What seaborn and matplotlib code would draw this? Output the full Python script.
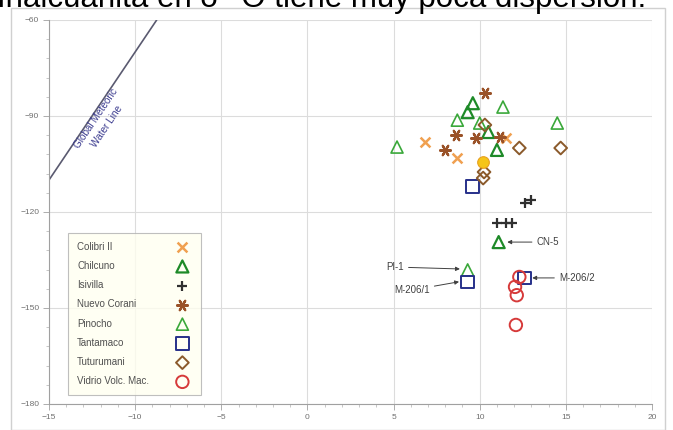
import matplotlib
matplotlib.use("Agg")
import matplotlib.pyplot as plt
from matplotlib.patches import Rectangle
from matplotlib.ticker import MultipleLocator
import seaborn as sns
import numpy as np

# valores (d18O, dD)
colibri_x = [6.8, 8.7, 11.5]
colibri_y = [-98.1, -103.1, -96.9]

chilcuno_x = [9.3, 9.6, 11.0, 10.5, 11.1]
chilcuno_y = [-88.8, -86.0, -100.6, -95.0, -129.4]

isivilla_x = [12.6, 13.0, 11.0, 11.5, 11.9]
isivilla_y = [-117.2, -116.3, -123.4, -123.4, -123.4]

corani_x = [8.0, 8.6, 10.3, 9.8, 11.2]
corani_y = [-100.6, -96.0, -82.8, -96.9, -96.5]

pinocho_x = [5.2, 8.7, 11.35, 14.5, 10.0, 9.3]
pinocho_y = [-99.7, -91.3, -87.2, -92.2, -92.2, -138.1]

tantamaco_x = [9.6, 9.3, 12.6]
tantamaco_y = [-112.0, -141.9, -140.6]

tuturumani_x = [12.3, 14.7, 10.3, 10.2, 10.25]
tuturumani_y = [-100.0, -100.0, -92.8, -109.4, -107.5]

vidrio_x = [12.3, 12.05, 12.15, 12.1]
vidrio_y = [-140.3, -143.4, -146.0, -155.3]

resaltado_x = [10.2]
resaltado_y = [-104.4]

# GMWL: dD = 8*d18O + 10
gmwl_x = [-15.0, -8.75]

sns.set_theme(style="white")
plt.rcParams["font.family"] = ["Liberation Sans", "DejaVu Sans"]

fig = plt.figure(figsize=(6.73, 4.30), dpi=100)
fig.patches.append(Rectangle((11 / 673, 0), 654 / 673, 422 / 430, transform=fig.transFigure,
                             fill=False, edgecolor="#d0d0d0", lw=1.0))
fig.text(-0.005, 1 - 7 / 430, "Inalcuanita en δ¹⁸O tiene muy poca dispersión.",
         fontsize=22.5, va="baseline", ha="left", color="#000000",
         family=["Liberation Sans", "DejaVu Sans"])

ax = fig.add_axes([49 / 673, 1 - 404 / 430, 603 / 673, 384 / 430])

ax.plot(gmwl_x, [8 * v + 10 for v in gmwl_x], color="#5a5a70", lw=1.2, zorder=2)
ax.text(-11.95, -92.0, "Global Meteoric\nWater Line", rotation=56, rotation_mode="anchor",
        ha="center", va="center", fontsize=7.2, color="#3b3b8f", linespacing=1.45)

sns.scatterplot(x=colibri_x, y=colibri_y, marker="x", s=50, color="#f0a050",
                linewidth=1.8, label="Colibri II", ax=ax, zorder=4)
sns.scatterplot(x=chilcuno_x, y=chilcuno_y, marker="^", s=75, facecolors="none",
                edgecolors="#1e8a28", linewidth=1.6, label="Chilcuno", ax=ax, zorder=4)
sns.scatterplot(x=isivilla_x, y=isivilla_y, marker="+", s=50, color="#303030",
                linewidth=1.6, label="Isivilla", ax=ax, zorder=4)
sns.scatterplot(x=corani_x, y=corani_y, marker=(6, 2, 90), s=60, color="#9a5228",
                linewidth=1.6, label="Nuevo Corani", ax=ax, zorder=4)
sns.scatterplot(x=pinocho_x, y=pinocho_y, marker="^", s=75, facecolors="none",
                edgecolors="#3aa83a", linewidth=1.2, label="Pinocho", ax=ax, zorder=4)
sns.scatterplot(x=tantamaco_x, y=tantamaco_y, marker="s", s=85, facecolors="none",
                edgecolors="#27308a", linewidth=1.4, label="Tantamaco", ax=ax, zorder=4)
sns.scatterplot(x=tuturumani_x, y=tuturumani_y, marker="D", s=42, facecolors="none",
                edgecolors="#8b5a2b", linewidth=1.4, label="Tuturumani", ax=ax, zorder=4)
sns.scatterplot(x=vidrio_x, y=vidrio_y, marker="o", s=80, facecolors="none",
                edgecolors="#d63a3a", linewidth=1.4, label="Vidrio Volc. Mac.", ax=ax, zorder=4)
sns.scatterplot(x=resaltado_x, y=resaltado_y, marker="o", s=70, color="#f5c518",
                edgecolor="#e8a020", linewidth=0.8, ax=ax, zorder=5)

arrow = dict(arrowstyle="-|>", color="#404040", lw=0.7, mutation_scale=6,
             shrinkA=1, shrinkB=0)
ax.annotate("CN-5", xy=(11.6, -129.4), xytext=(13.3, -129.4), fontsize=7,
            color="#404040", ha="left", va="center", arrowprops=arrow)
ax.annotate("PI-1", xy=(8.85, -137.8), xytext=(5.6, -137.2), fontsize=7,
            color="#404040", ha="right", va="center", arrowprops=arrow)
ax.annotate("M-206/1", xy=(8.8, -141.8), xytext=(7.1, -144.4), fontsize=7,
            color="#404040", ha="right", va="center", arrowprops=arrow)
ax.annotate("M-206/2", xy=(13.05, -140.6), xytext=(14.6, -140.6), fontsize=7,
            color="#404040", ha="left", va="center", arrowprops=arrow)

ax.set_xlim(-15, 20)
ax.set_ylim(-180, -60)
ax.xaxis.set_major_locator(MultipleLocator(5))
ax.xaxis.set_minor_locator(MultipleLocator(1))
ax.yaxis.set_major_locator(MultipleLocator(30))
ax.yaxis.set_minor_locator(MultipleLocator(6))
ax.grid(True, which="major", color="#dcdcdc", lw=0.8)
ax.set_axisbelow(True)
for side in ["top", "right"]:
    ax.spines[side].set_visible(False)
for side in ["left", "bottom"]:
    ax.spines[side].set_color("#a0a0a0")
    ax.spines[side].set_linewidth(0.8)
ax.tick_params(which="major", direction="out", length=4, width=0.6, color="#a0a0a0",
               labelsize=6, labelcolor="#707070", pad=3, bottom=True, left=True)
ax.tick_params(which="minor", direction="out", length=2, width=0.5, color="#b0b0b0",
               bottom=True, left=True)

leg = ax.legend(loc="lower left", bbox_to_anchor=(0.032, 0.023), markerfirst=False,
                fontsize=7, labelspacing=0.95, handletextpad=1.0, borderpad=0.9,
                frameon=True, fancybox=False, borderaxespad=0)
leg.get_frame().set_facecolor("#fffff0")
leg.get_frame().set_edgecolor("#b0b0b0")
leg.get_frame().set_linewidth(0.8)
for t in leg.get_texts():
    t.set_color("#505050")

# textos de la leyenda alineados a la izquierda, marcadores a la derecha
fig.canvas.draw()
renderer = fig.canvas.get_renderer()
widths = [t.get_window_extent(renderer).width * 72 / fig.dpi for t in leg.get_texts()]
wmax = max(widths)
rows = leg._legend_handle_box.get_children()[0].get_children()
for row, w in zip(rows, widths):
    row.sep = row.sep + (wmax - w) + 10

fig.savefig("out.png", dpi=100)
